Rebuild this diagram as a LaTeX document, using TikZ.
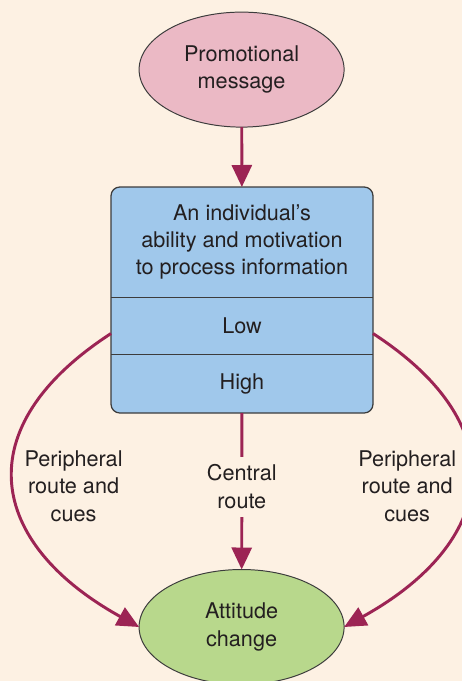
\documentclass[tikz,border=0pt]{standalone}
\usepackage{fontspec}
\setmainfont{TeX Gyre Heros}
\usetikzlibrary{positioning,shapes.geometric,arrows.meta,backgrounds}
\definecolor{cream}{RGB}{253,241,227}
\definecolor{pinkfill}{RGB}{235,185,197}
\definecolor{bluefill}{RGB}{160,200,235}
\definecolor{greenfill}{RGB}{184,216,140}
\definecolor{route}{RGB}{156,36,84}
\definecolor{ink}{RGB}{35,31,32}
\definecolor{rim}{RGB}{60,60,60}
\begin{document}
\begin{tikzpicture}[
    font=\fontsize{15.4}{19.5}\selectfont, text=ink,
    oval/.style={ellipse, draw=rim, line width=0.7pt, minimum width=5.125cm,
      minimum height=2.875cm, inner sep=0pt, outer sep=0pt, align=center},
    sect/.style={minimum width=6.55cm, inner sep=0pt, outer sep=0pt, align=center},
    path/.style={route, line width=2.1pt, -{Triangle[length=5.5mm,width=5mm]}},
    cue/.style={align=center, inner sep=0pt, text=ink}
  ]
  \useasboundingbox (0,0) rectangle (11.55,-17.025);

  \node[oval, fill=pinkfill] (msg) at (6.04,-1.74) {Promotional\\message};
  \node[sect, minimum height=2.75cm] (proc) at (6.05,-6.05)
    {An individual's\\ability and motivation\\to process information};
  \node[sect, minimum height=1.425cm, below=0pt of proc] (low) {Low};
  \node[sect, minimum height=1.475cm, below=0pt of low] (high) {High};
  \node[oval, fill=greenfill] (att) at (6.04,-15.675) {Attitude\\change};

  \begin{scope}[on background layer]
    \fill[cream] (0,0) rectangle (11.55,-17.025);
    \draw[rim, fill=bluefill, line width=0.9pt, rounded corners=0.22cm]
      (proc.north west) rectangle (high.south east);
  \end{scope}
  \draw[rim, line width=0.7pt] (proc.south west) -- (proc.south east);
  \draw[rim, line width=0.7pt] (low.south west) -- (low.south east);

  % routes
  \draw[path] (msg) -- (proc);
  \draw[path] (high) -- node[pos=0.47, cue, fill=cream, inner ysep=0.2cm] (central) {Central\\route} (att);
  \draw[path] ([yshift=-0.2cm]low.west) to[out=213, in=151, looseness=1.5] (att.west);
  \draw[path] ([yshift=-0.2cm]low.east) to[out=-33, in=29, looseness=1.5] (att.east);

  \node[cue] (leftcue) at (1.84,-12.15) {Peripheral\\route and\\cues};
  \node[cue] (rightcue) at (10.18,-12.15) {Peripheral\\route and\\cues};
\end{tikzpicture}
\end{document}
